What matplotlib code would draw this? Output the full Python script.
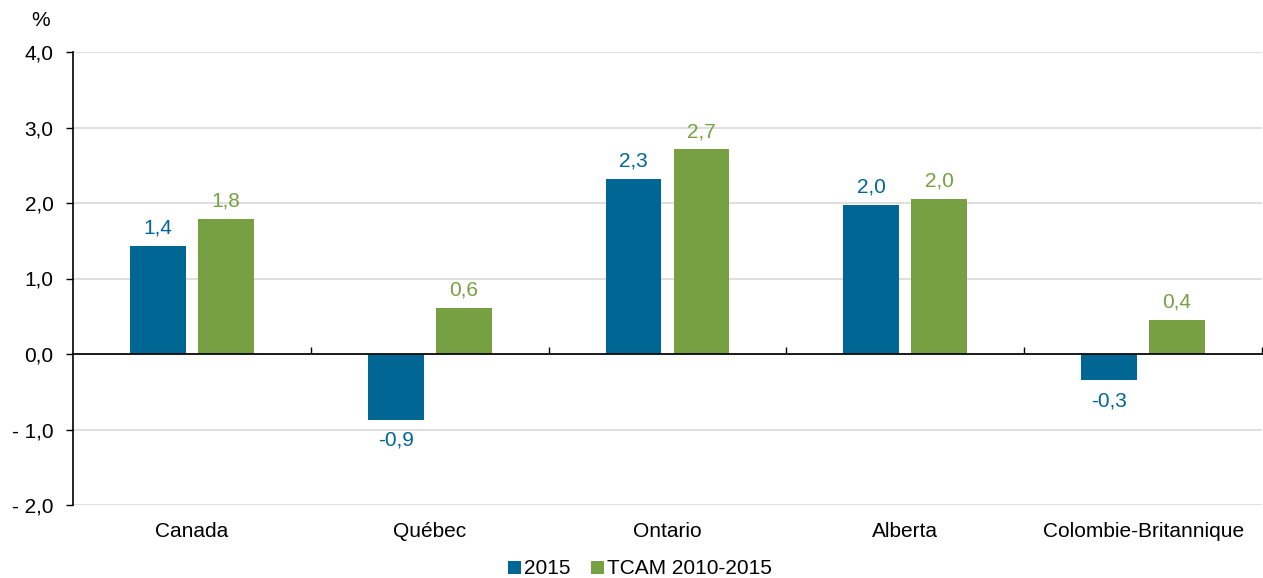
import matplotlib
matplotlib.use("Agg")
import matplotlib.pyplot as plt
import numpy as np

plt.rcParams['font.family'] = ['Liberation Sans', 'DejaVu Sans']

categories = ["Canada", "Québec", "Ontario", "Alberta", "Colombie-Britannique"]
series_names = ["2015", "TCAM 2010-2015"]
values_2015 = [1.43, -0.87, 2.32, 1.98, -0.35]
values_tcam = [1.79, 0.61, 2.71, 2.05, 0.45]
labels_2015 = ["1,4", "-0,9", "2,3", "2,0", "-0,3"]
labels_tcam = ["1,8", "0,6", "2,7", "2,0", "0,4"]
yticks = [-2, -1, 0, 1, 2, 3, 4]
ytick_labels = ["- 2,0", "- 1,0", "0,0", "1,0", "2,0", "3,0", "4,0"]

c_blue = "#006693"
c_green = "#77A043"
fs = 15

fig = plt.figure(figsize=(12.63, 5.78), dpi=100)
ax = fig.add_axes([73/1263, 1-505/578, (1262-73)/1263, (505-52)/578])

x = np.arange(len(categories))
w = 0.235
off = 0.143
b1 = ax.bar(x - off, values_2015, w, color=c_blue, zorder=3)
b2 = ax.bar(x + off, values_tcam, w, color=c_green, zorder=3)

for rect, v, lab in zip(b1, values_2015, labels_2015):
    cx = rect.get_x() + rect.get_width()/2
    if v >= 0:
        ax.annotate(lab, (cx, v), xytext=(0, 6), textcoords="offset points",
                    ha="center", va="bottom", color=c_blue, fontsize=fs)
    else:
        ax.annotate(lab, (cx, v), xytext=(0, -8), textcoords="offset points",
                    ha="center", va="top", color=c_blue, fontsize=fs)
for rect, v, lab in zip(b2, values_tcam, labels_tcam):
    cx = rect.get_x() + rect.get_width()/2
    ax.annotate(lab, (cx, v), xytext=(0, 6), textcoords="offset points",
                ha="center", va="bottom", color=c_green, fontsize=fs)

ax.set_xlim(-0.5, len(categories) - 0.5)
ax.set_ylim(-2, 4)
ax.set_yticks(yticks)
ax.set_yticklabels(ytick_labels, fontsize=fs)
ax.tick_params(axis='y', direction='out', length=5, width=1, color='black', pad=9)
ax.set_xticks(x)
ax.set_xticklabels(categories, fontsize=fs)
ax.tick_params(axis='x', length=0, pad=12)

for s in ["top", "right", "bottom"]:
    ax.spines[s].set_visible(False)
ax.spines["left"].set_color("black")
ax.spines["left"].set_linewidth(1.2)
ax.spines["left"].set_zorder(4)

ax.yaxis.grid(True, color="#D9D9D9", linewidth=1.2, zorder=0)
ax.set_axisbelow(True)

# zero line with category boundary ticks
sec = ax.secondary_xaxis(1/3)
sec.set_xticks(np.arange(len(categories)) + 0.5)
sec.set_xticklabels([])
sec.tick_params(direction='in', length=5, width=1, color='black')
sec.spines['bottom'].set_color('black')
sec.spines['bottom'].set_linewidth(1.2)
ax.axhline(0, color='black', linewidth=1.2, zorder=4)

fig.text(31/1263, 1-21/578, "%", fontsize=fs, ha="left", va="center")

leg = fig.legend([b1, b2], series_names, loc="center", bbox_to_anchor=(640/1263, 1-569/578),
                 ncol=2, frameon=False, fontsize=fs, handlelength=0.6, handleheight=0.6,
                 handletextpad=0.15, columnspacing=1.0, borderpad=0)

fig.savefig("out.png", dpi=100)
